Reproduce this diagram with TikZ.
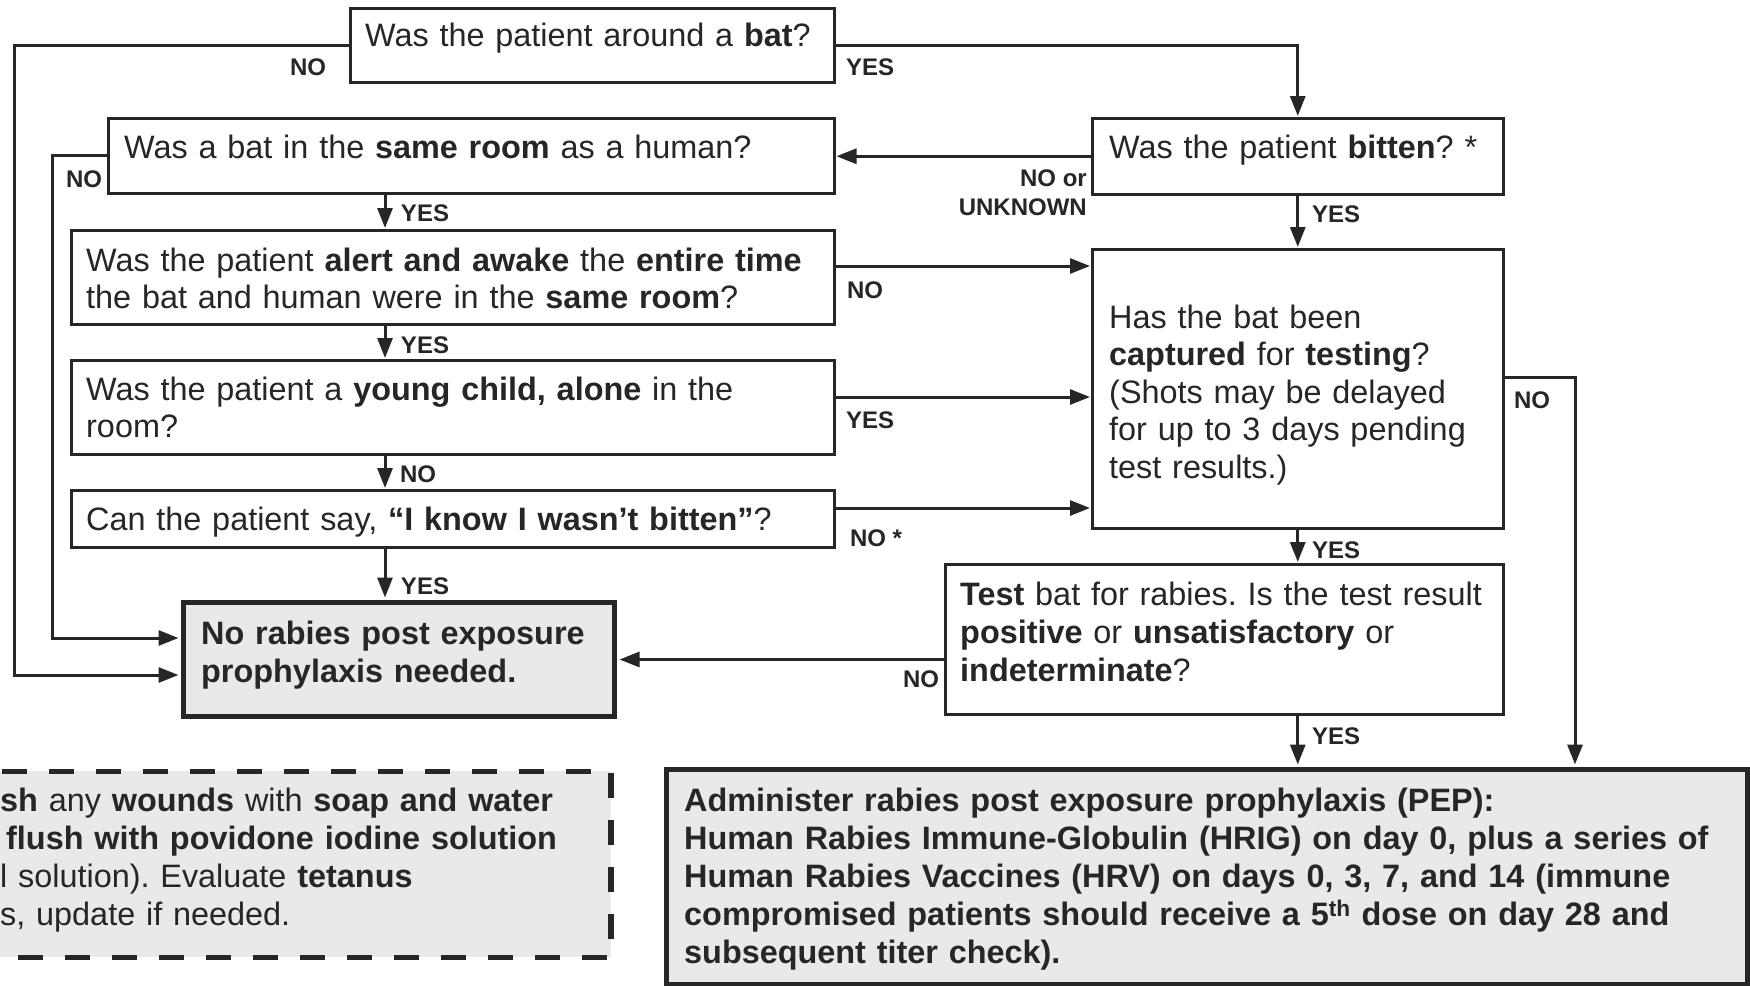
\documentclass[tikz,border=0pt]{standalone}
\usepackage{fontspec}
\setmainfont{Liberation Sans}
\usetikzlibrary{arrows.meta}
\definecolor{ink}{HTML}{262626}
\definecolor{boxfill}{HTML}{E9E9E9}
\begin{document}
\frenchspacing
\begin{tikzpicture}[x=1pt,y=-1pt,
  box/.style={draw=ink, line width=2.5pt, fill=white, inner sep=0pt, anchor=north west},
  thickbox/.style={draw=ink, line width=5pt, fill=boxfill, inner sep=0pt, anchor=north west},
  dashbox/.style={draw=ink, line width=5.5pt, fill=boxfill, inner sep=0pt, anchor=north west, dash pattern=on 25pt off 22pt},
  txt/.style={anchor=north west, inner sep=0pt, text=ink, align=left, text width=#1, font=\fontsize{32.4}{37.5}\selectfont},
  txtb/.style={anchor=north west, inner sep=0pt, text=ink, align=left, text width=#1, font=\fontsize{32.4}{38}\selectfont},
  lab/.style={inner sep=0pt, text=ink, font=\bfseries\fontsize{24}{27}\selectfont},
  conn/.style={draw=ink, line width=3pt, -{Triangle[length=20pt,width=15pt]}, shorten >=1pt},
  connk/.style={conn, shorten >=2.5pt}
]
\useasboundingbox (0,0) rectangle (1750,985);
\fill[white] (0,0) rectangle (1750,985);

% ---- boxes ----
\node[box, minimum width=484pt, minimum height=74pt] (q1) at (349,7) {};
\node[box, minimum width=726pt, minimum height=75pt] (q2) at (107,117) {};
\node[box, minimum width=411pt, minimum height=76pt] (bit) at (1091,117) {};
\node[box, minimum width=763pt, minimum height=94pt] (q3) at (70,229) {};
\node[box, minimum width=411pt, minimum height=279pt] (cap) at (1091,248) {};
\node[box, minimum width=763pt, minimum height=94pt] (q4) at (70,359) {};
\node[box, minimum width=763pt, minimum height=57pt] (q5) at (70,489) {};
\node[thickbox, minimum width=431pt, minimum height=114pt] (nopep) at (181,600) {};
\node[box, minimum width=558pt, minimum height=150pt] (test) at (944,563) {};
\node[thickbox, minimum width=1081pt, minimum height=215pt] (pep) at (664,767) {};
\begin{scope}
  \clip (0,0) rectangle (1750,985);
  \node[dashbox, minimum width=640pt, minimum height=186pt] (wash) at (-32,768.5) {};
\end{scope}

% ---- texts ----
\node[txt=470pt] (t1) at (365,19.75) {\strut Was the patient around a \textbf{bat}?};
\node[txt=700pt] (t2) at (124,131.75) {\strut Was a bat in the \textbf{same room} as a human?};
\node[txt=390pt] (tbit) at (1109,131.75) {\strut Was the patient \textbf{bitten}? *};
\node[txt=740pt] (t3) at (86,244.75) {\strut Was the patient \textbf{alert and awake} the \textbf{entire time}\\the bat and human were in the \textbf{same room}?};
\node[txt=740pt] (t4) at (86,373.75) {\strut Was the patient a \textbf{young child, alone} in the\\room?};
\node[txt=740pt] (t5) at (86,503.75) {\strut Can the patient say, \textbf{“I know I wasn’t bitten”}?};
\node[txt=390pt] (tcap) at (1109,301.75) {\strut Has the bat been\\\textbf{captured} for \textbf{testing}?\\(Shots may be delayed\\for up to 3 days pending\\test results.)};
\node[txtb=410pt, font=\bfseries\fontsize{32.4}{38}\selectfont] (tno) at (201,617.4) {\strut No rabies post exposure\\prophylaxis needed.};
\node[txtb=540pt] (ttest) at (960,578.4) {\strut\textbf{Test} bat for rabies. Is the test result\\\textbf{positive} or \textbf{unsatisfactory} or\\\textbf{indeterminate}?};
\node[txtb=1060pt, font=\bfseries\fontsize{32.4}{38}\selectfont] (tpep) at (684,784.4) {\strut Administer rabies post exposure prophylaxis (PEP):\\Human Rabies Immune-Globulin (HRIG) on day 0, plus a series of\\Human Rabies Vaccines (HRV) on days 0, 3, 7, and 14 (immune\\compromised patients should receive a 5\textsuperscript{th} dose on day 28 and\\subsequent titer check).};
\node[txtb=600pt] (twash) at (0,784.4) {\strut\textbf{sh} any \textbf{wounds} with \textbf{soap and water}\\\hspace*{6pt}\textbf{flush with povidone iodine solution}\\l solution). Evaluate \textbf{tetanus}\\s, update if needed.};

% ---- helper coordinates ----
\coordinate (cL) at (385,0);
\coordinate (xA) at (14,0);
\coordinate (xB) at (52,0);
\coordinate (xC) at (1575,0);
\coordinate (yA) at (0,675);
\coordinate (yB) at (0,638);
\coordinate (yC) at (0,266);
\coordinate (yD) at (0,397);
\coordinate (yE) at (0,508);
\coordinate (yF) at (0,377);

% ---- connectors ----
\draw[connk] (q1.west) -| (xA |- yA) -- (nopep.west |- yA);
\draw[conn] (q1.east) -| (bit.north);
\draw[conn] (bit.west) -- (bit.west -| q2.east);
\draw[connk] (q2.west) -| (xB |- yB) -- (nopep.west |- yB);
\draw[conn] (q2.south -| cL) -- (q3.north -| cL);
\draw[conn] (q3.east |- yC) -- (cap.west |- yC);
\draw[conn] (q3.south -| cL) -- (q4.north -| cL);
\draw[conn] (q4.east |- yD) -- (cap.west |- yD);
\draw[conn] (q4.south -| cL) -- (q5.north -| cL);
\draw[conn] (q5.east |- yE) -- (cap.west |- yE);
\draw[connk] (q5.south -| cL) -- (nopep.north -| cL);
\draw[conn] (bit.south) -- (bit.south |- cap.north);
\draw[connk] (cap.east |- yF) -| (xC |- pep.north);
\draw[conn] (cap.south) -- (cap.south |- test.north);
\draw[connk] (test.west |- nopep.east) -- (nopep.east);
\draw[connk] (test.south -| cap.south) -- (pep.north -| cap.south);

% ---- labels ----
\node[lab] (lNo1) at (308,67) {NO};
\node[lab] (lYes1) at (870,67) {YES};
\node[lab] (lNo2) at (84,179) {NO};
\node[lab, anchor=east] (lNoOr) at (1087,178) {NO or};
\node[lab, anchor=east] (lUnk) at (1087,207) {UNKNOWN};
\node[lab] (lYes2) at (425,213) {YES};
\node[lab] (lNo3) at (865,290) {NO};
\node[lab] (lYes3) at (425,345) {YES};
\node[lab] (lYes4) at (870,420) {YES};
\node[lab] (lNo4) at (418,474) {NO};
\node[lab] (lNo5) at (876,538) {NO *};
\node[lab] (lYes5) at (425,586) {YES};
\node[lab] (lYesB) at (1336,214) {YES};
\node[lab] (lNoC) at (1532,400) {NO};
\node[lab] (lYesC) at (1336,550) {YES};
\node[lab] (lNoT) at (921,679) {NO};
\node[lab] (lYesT) at (1336,736) {YES};
\end{tikzpicture}
\end{document}
